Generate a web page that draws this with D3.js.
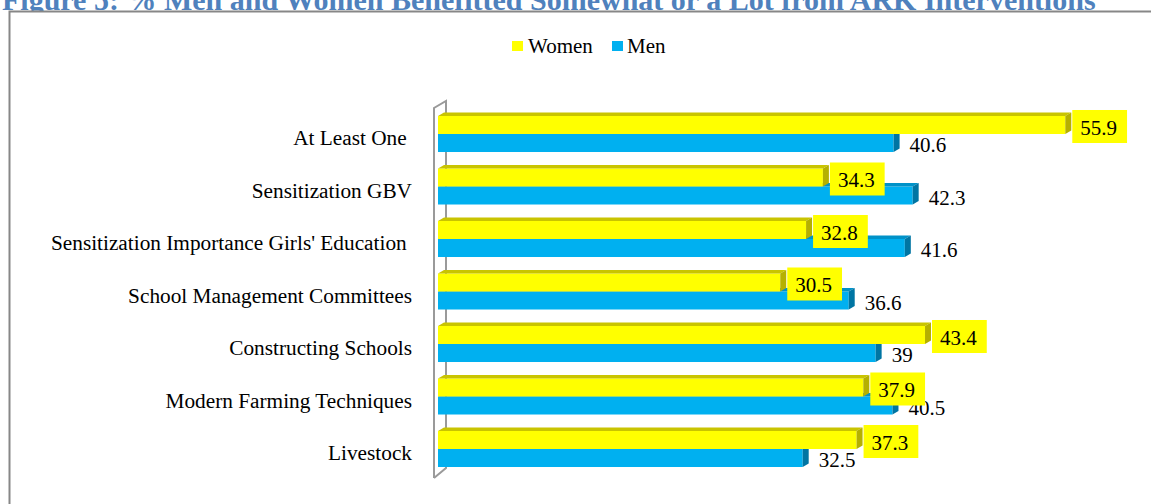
<!DOCTYPE html>
<html><head><meta charset="utf-8">
<script src="https://cdn.jsdelivr.net/npm/d3@7"></script>
<style>
html,body{margin:0;padding:0;background:#fff;}
svg{display:block;}
</style></head>
<body>
<svg id="chart" width="1151" height="504" font-family="'Liberation Serif', 'Times New Roman', serif"></svg>
<script>
const titleText = "Figure 5: % Men and Women Benefitted Somewhat or a Lot from ARK Interventions";
const categories = ["At Least One ", "Sensitization GBV", "Sensitization Importance Girls' Education ", "School Management Committees", "Constructing Schools", "Modern Farming Techniques", "Livestock"];
const seriesNames = ["Women", "Men"];
const womenValues = [55.9, 34.3, 32.8, 30.5, 43.4, 37.9, 37.3];
const menValues = [40.6, 42.3, 41.6, 36.6, 39, 40.5, 32.5];

const svg = d3.select("#chart");
const FONT = "'Liberation Serif', 'Times New Roman', serif";
const colors = {Women: {front:"#FFFF00", top:"#C9C400", side:"#B5B000"}, Men: {front:"#00B0F0", top:"#0092C8", side:"#0075A3"}};
const dx = 6, dy = 3.5;

// title (clipped at top)
svg.append("text").attr("x", 2).attr("y", 10).attr("font-size", 30).attr("font-weight", "bold")
  .attr("font-family", FONT).attr("fill", "#4F81BD").text(titleText);

// frame
svg.append("rect").attr("x", 9.5).attr("y", 11.5).attr("width", 1160).attr("height", 520)
  .attr("fill", "#fff").attr("stroke", "#878787").attr("stroke-width", 2);

const x = d3.scaleLinear().domain([0, 60]).range([438, 1111.3]);
const y = d3.scaleBand().domain(categories).range([107.75, 475.25]).paddingInner(0.314).paddingOuter(0.157);
const ys = d3.scaleBand().domain(seriesNames).range([0, y.bandwidth()]);

// wall
const wall = svg.append("g").attr("fill", "none").attr("stroke", "#9A9A9A").attr("stroke-width", 2);
wall.append("path").attr("d", d3.line()([[434, 478], [434, 108], [446, 101], [446, 468], [434, 478]]));

// legend
const legend = svg.append("g");
const legItems = [{n:"Women", sx:512, tx:528}, {n:"Men", sx:612, tx:627}];
legItems.forEach(it => {
  legend.append("rect").attr("x", it.sx).attr("y", 41).attr("width", 11).attr("height", 10).attr("fill", colors[it.n].front);
  legend.append("text").attr("x", it.tx).attr("y", 53).attr("font-size", 21).attr("font-family", FONT).attr("fill", "#000").text(it.n);
});

// category labels
svg.append("g").selectAll("text").data(categories).join("text")
  .attr("x", 412).attr("y", d => y(d) + y.bandwidth()/2 + 11)
  .attr("text-anchor", "end").attr("font-size", 21.3).attr("font-family", FONT).attr("fill", "#000")
  .style("white-space", "pre").text(d => d);

function bar3d(g, cat, name, v) {
  const x0 = x(0), x1 = x(v), y0 = y(cat) + ys(name), h = ys.bandwidth();
  const c = colors[name];
  g.append("rect").attr("x", x0).attr("y", y0).attr("width", x1 - x0).attr("height", h).attr("fill", c.front);
  g.append("path").attr("fill", c.top).attr("d", d3.line()([[x0, y0], [x0 + dx, y0 - dy], [x1 + dx, y0 - dy], [x1, y0]]) + "Z");
  g.append("path").attr("fill", c.side).attr("d", d3.line()([[x1, y0], [x1 + dx, y0 - dy], [x1 + dx, y0 + h - dy], [x1, y0 + h]]) + "Z");
}

const bars = svg.append("g");
categories.forEach((cat, i) => {
  bar3d(bars, cat, "Men", menValues[i]);
  bar3d(bars, cat, "Women", womenValues[i]);
});

// men labels
const labels = svg.append("g");
categories.forEach((cat, i) => {
  const cy = y(cat) + ys("Men") + ys.bandwidth()/2;
  labels.append("text").attr("x", x(menValues[i]) + dx + 10).attr("y", cy + 9)
    .attr("font-size", 21).attr("font-family", FONT).attr("fill", "#000").text(menValues[i]);
});
// women labels with yellow boxes
categories.forEach((cat, i) => {
  const cy = y(cat) + ys("Women") + ys.bandwidth()/2;
  const tx = x(womenValues[i]) + dx + 9;
  const g = labels.append("g");
  const r = g.append("rect");
  const t = g.append("text").attr("x", tx).attr("y", cy + 10).attr("font-size", 21).attr("font-family", FONT).attr("fill", "#000").text(womenValues[i]);
  const w = t.node().getComputedTextLength();
  r.attr("x", tx - 8).attr("y", cy - 15).attr("width", w + 18).attr("height", 33).attr("fill", "#FFFF00");
});
</script>
</body></html>
